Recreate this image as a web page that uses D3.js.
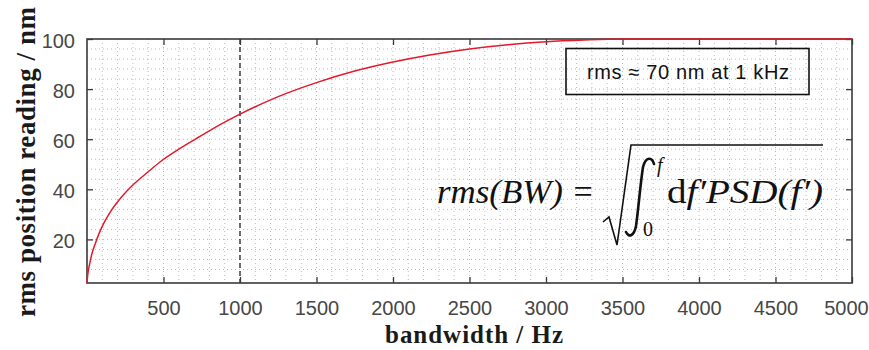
<!DOCTYPE html>
<html>
<head>
<meta charset="utf-8">
<script src="https://cdn.jsdelivr.net/npm/d3@7"></script>
<style>
  html, body { margin: 0; padding: 0; background: #fff; }
  svg { display: block; }
</style>
</head>
<body>
<svg id="chart" width="869" height="350"></svg>
<script>
// Cumulative rms position noise versus measurement bandwidth
const bandwidthHz = [0, 5, 15, 33, 55, 80, 110, 153, 220, 305, 400, 479, 600, 741, 870, 1000,
                     1250, 1500, 1750, 2000, 2250, 2500, 2750, 3000, 3250, 3500, 4000, 4500, 5000];
const rmsNm = [2.6, 6, 9.5, 14.5, 18.5, 22.5, 26.5, 31, 36.5, 42, 47, 51, 56, 61.2, 65.8, 70,
               77, 82.6, 87.2, 90.8, 93.7, 96, 97.7, 98.9, 99.6, 100, 100, 100, 100];
const xTicks = [500, 1000, 1500, 2000, 2500, 3000, 3500, 4000, 4500, 5000];
const yTicks = [20, 40, 60, 80, 100];
const markerHz = 1000;
const noteText = "rms \u2248 70 nm at 1 kHz";

const svg = d3.select("#chart");
const plot = { left: 87, right: 852, top: 39, bottom: 283 };

const x = d3.scaleLinear().domain([0, 5000]).range([plot.left, plot.right]);
const y = d3.scaleLinear().domain([d3.min(rmsNm), 100]).range([plot.bottom, plot.top]);

svg.append("defs").append("clipPath").attr("id", "plotClip")
  .append("rect")
  .attr("x", plot.left).attr("y", plot.top)
  .attr("width", plot.right - plot.left).attr("height", plot.bottom - plot.top);

// Dotted minor grid
const grid = svg.append("g").attr("clip-path", "url(#plotClip)")
  .attr("stroke", "#b9b9b9").attr("stroke-width", 1).attr("stroke-dasharray", "1,3");
grid.selectAll("line.v").data(d3.range(100, 5000, 100)).join("line")
  .attr("x1", d => x(d)).attr("x2", d => x(d))
  .attr("y1", plot.top).attr("y2", plot.bottom);
grid.selectAll("line.h").data(d3.range(8, 100, 4)).join("line")
  .attr("x1", plot.left).attr("x2", plot.right)
  .attr("y1", d => y(d)).attr("y2", d => y(d));

// Marker at 1 kHz
svg.append("line")
  .attr("x1", x(markerHz)).attr("x2", x(markerHz))
  .attr("y1", plot.top).attr("y2", plot.bottom)
  .attr("stroke", "#111").attr("stroke-width", 1.2).attr("stroke-dasharray", "5,3");

// Axes with inward ticks on all four sides
const tickLen = 6;
const axisColor = "#3a3a3a";
const fontSans = "'Liberation Sans', Arial, sans-serif";
const fmt = d3.format("d");

const bottomAxis = svg.append("g").attr("transform", `translate(0,${plot.bottom})`)
  .call(d3.axisBottom(x).tickValues(xTicks).tickFormat(fmt)
    .tickSizeInner(-tickLen).tickSizeOuter(0).tickPadding(13));
const leftAxis = svg.append("g").attr("transform", `translate(${plot.left},0)`)
  .call(d3.axisLeft(y).tickValues(yTicks).tickFormat(fmt)
    .tickSizeInner(-tickLen).tickSizeOuter(0).tickPadding(12));
const topAxis = svg.append("g").attr("transform", `translate(0,${plot.top})`)
  .call(d3.axisTop(x).tickValues(xTicks).tickSizeInner(-tickLen).tickSizeOuter(0).tickFormat(""));
const rightAxis = svg.append("g").attr("transform", `translate(${plot.right},0)`)
  .call(d3.axisRight(y).tickValues(yTicks).tickSizeInner(-tickLen).tickSizeOuter(0).tickFormat(""));

[bottomAxis, leftAxis, topAxis, rightAxis].forEach(g => {
  g.select(".domain").remove();
  g.selectAll(".tick line").attr("stroke", axisColor).attr("stroke-width", 1.3);
  g.selectAll(".tick text").attr("fill", "#474747")
    .style("font-family", fontSans).style("font-size", "20px");
});
bottomAxis.selectAll(".tick text").attr("dy", "0.95em");
// keep the last label inside the page edge
bottomAxis.selectAll(".tick").filter(d => d === 5000).select("text").attr("dx", -6);
leftAxis.selectAll(".tick text").attr("dy", "0.4em");

svg.append("rect")
  .attr("x", plot.left).attr("y", plot.top)
  .attr("width", plot.right - plot.left).attr("height", plot.bottom - plot.top)
  .attr("fill", "none").attr("stroke", axisColor).attr("stroke-width", 1.6);

// rms curve
const line = d3.line().x((d, i) => x(bandwidthHz[i])).y(d => y(d)).curve(d3.curveMonotoneX);
svg.append("path").datum(rmsNm)
  .attr("d", line)
  .attr("fill", "none").attr("stroke", "#e3192b").attr("stroke-width", 1.5);

// Axis titles
const fontSerif = "'Liberation Serif', 'Times New Roman', serif";
svg.append("text")
  .attr("x", 474).attr("y", 343).attr("text-anchor", "middle")
  .attr("textLength", 178).attr("lengthAdjust", "spacing")
  .style("font-family", fontSerif).style("font-weight", "bold").style("font-size", "25px")
  .attr("fill", "#1a1a1a")
  .text("bandwidth / Hz");
svg.append("text")
  .attr("transform", "translate(35,162) rotate(-90)").attr("text-anchor", "middle")
  .attr("textLength", 310).attr("lengthAdjust", "spacing")
  .style("font-family", fontSerif).style("font-weight", "bold").style("font-size", "27px")
  .attr("fill", "#1a1a1a")
  .text("rms position reading / nm");

// Annotation box
svg.append("rect")
  .attr("x", 566).attr("y", 48.5).attr("width", 243).attr("height", 46)
  .attr("fill", "none").attr("stroke", "#111").attr("stroke-width", 1.6);
svg.append("text")
  .attr("x", 688).attr("y", 79).attr("text-anchor", "middle")
  .attr("textLength", 202).attr("lengthAdjust", "spacing")
  .style("font-family", fontSans).style("font-size", "20px").attr("fill", "#111")
  .text(noteText);

// Formula: rms(BW) = sqrt( integral_0^f df' PSD(f') )
const eq = svg.append("g").attr("fill", "#111")
  .style("font-family", fontSerif);
eq.append("text").attr("x", 437).attr("y", 203)
  .attr("textLength", 126).attr("lengthAdjust", "spacingAndGlyphs")
  .style("font-style", "italic").style("font-size", "34px")
  .text("rms(BW)");
eq.append("text").attr("x", 583).attr("y", 203).attr("text-anchor", "middle")
  .style("font-size", "34px").text("=");
eq.append("path")
  .attr("d", "M603,222 L609,217 L617,245 L631,145 L823,145")
  .attr("fill", "none").attr("stroke", "#111").attr("stroke-width", 1.6)
  .attr("stroke-linejoin", "miter");
eq.append("path")
  .attr("d", "M654,164 C652,157 646,156 643,167 C640,187 638,213 636,226 C634,236 629,238 626,232")
  .attr("fill", "none").attr("stroke", "#111").attr("stroke-width", 2.6)
  .attr("stroke-linecap", "round");
eq.append("text").attr("x", 657).attr("y", 172)
  .style("font-style", "italic").style("font-size", "20px").text("f");
eq.append("text").attr("x", 643).attr("y", 236)
  .style("font-size", "20px").text("0");
const integrand = eq.append("text").attr("x", 667).attr("y", 203)
  .attr("textLength", 156).attr("lengthAdjust", "spacingAndGlyphs")
  .style("font-size", "34px");
integrand.append("tspan").text("d");
integrand.append("tspan").style("font-style", "italic").text("f\u2032PSD(f\u2032)");
</script>
</body>
</html>
